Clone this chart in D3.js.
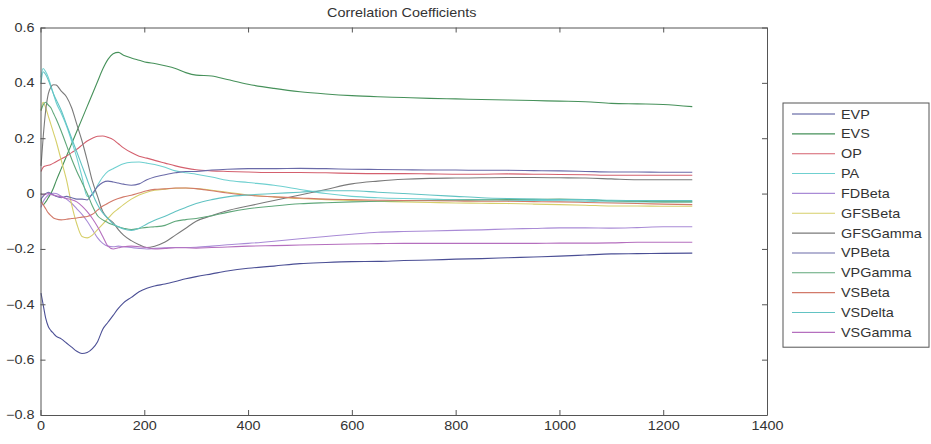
<!DOCTYPE html>
<html>
<head>
<meta charset="utf-8">
<script src="https://cdn.jsdelivr.net/npm/d3@7"></script>
<style>
  html, body { margin: 0; padding: 0; background: #fff; }
  svg { display: block; font-family: "Liberation Sans", Arial, sans-serif; }
</style>
</head>
<body>
<svg id="chart" width="931" height="444"></svg>
<script>
// Sample positions shared by every series
const steps = [1,5,10,15,20,25,30,40,50,60,70,80,90,100,110,120,130,140,150,160,175,190,205,220,240,260,280,300,330,360,400,450,500,550,600,650,700,750,800,850,900,950,1000,1050,1100,1150,1200,1256];

const seriesNames = ["EVP","EVS","OP","PA","FDBeta","GFSBeta","GFSGamma","VPBeta","VPGamma","VSBeta","VSDelta","VSGamma"];
const seriesColors = ["#4b4f95","#46915a","#d4606e","#6fd0d0","#a98bd6","#d6cf6a","#7a7a7a","#6a6aa8","#5fa77a","#d27a6a","#62c3c3","#b56fbe"];

const EVP = [-0.36,-0.40,-0.45,-0.48,-0.495,-0.505,-0.515,-0.525,-0.54,-0.555,-0.57,-0.578,-0.574,-0.56,-0.535,-0.49,-0.465,-0.44,-0.415,-0.395,-0.375,-0.355,-0.342,-0.334,-0.327,-0.318,-0.308,-0.300,-0.290,-0.280,-0.270,-0.262,-0.253,-0.249,-0.246,-0.245,-0.242,-0.240,-0.237,-0.235,-0.232,-0.229,-0.226,-0.222,-0.218,-0.217,-0.216,-0.215];
const EVS = [-0.02,-0.04,-0.03,-0.015,0.0,0.02,0.045,0.09,0.135,0.18,0.225,0.27,0.315,0.36,0.405,0.45,0.485,0.505,0.51,0.5,0.49,0.482,0.474,0.47,0.462,0.452,0.437,0.428,0.425,0.412,0.395,0.38,0.368,0.36,0.354,0.35,0.347,0.344,0.342,0.34,0.338,0.336,0.334,0.332,0.326,0.324,0.322,0.314];
const OP = [0.08,0.095,0.1,0.102,0.105,0.11,0.115,0.125,0.135,0.148,0.16,0.175,0.19,0.2,0.207,0.208,0.203,0.195,0.18,0.165,0.148,0.135,0.128,0.12,0.11,0.1,0.092,0.086,0.082,0.08,0.078,0.076,0.076,0.075,0.073,0.072,0.072,0.071,0.07,0.07,0.071,0.07,0.069,0.068,0.066,0.066,0.066,0.066];
const PA = [0.42,0.452,0.44,0.42,0.39,0.36,0.33,0.29,0.245,0.19,0.13,0.06,-0.01,-0.005,0.03,0.06,0.08,0.09,0.1,0.108,0.113,0.114,0.11,0.105,0.095,0.082,0.075,0.07,0.06,0.048,0.04,0.03,0.015,0.0,-0.01,-0.015,-0.018,-0.02,-0.022,-0.022,-0.024,-0.025,-0.026,-0.028,-0.03,-0.03,-0.03,-0.03];
const FDBeta = [-0.05,-0.03,-0.015,-0.005,0.0,0.001,0.0,-0.01,-0.02,-0.035,-0.055,-0.075,-0.1,-0.13,-0.16,-0.18,-0.19,-0.192,-0.19,-0.192,-0.195,-0.198,-0.2,-0.198,-0.196,-0.195,-0.195,-0.194,-0.19,-0.185,-0.18,-0.172,-0.163,-0.155,-0.147,-0.14,-0.137,-0.135,-0.133,-0.131,-0.128,-0.126,-0.124,-0.124,-0.125,-0.123,-0.12,-0.12];
const GFSBeta = [0.3,0.33,0.31,0.28,0.25,0.22,0.19,0.12,0.05,-0.04,-0.11,-0.155,-0.16,-0.15,-0.13,-0.11,-0.09,-0.07,-0.055,-0.04,-0.02,-0.005,0.005,0.012,0.016,0.019,0.02,0.018,0.012,0.005,-0.005,-0.012,-0.018,-0.022,-0.025,-0.028,-0.03,-0.032,-0.034,-0.035,-0.036,-0.038,-0.04,-0.042,-0.045,-0.045,-0.046,-0.046];
const GFSGamma = [0.1,0.2,0.3,0.36,0.385,0.393,0.392,0.37,0.35,0.31,0.25,0.19,0.12,0.045,-0.01,-0.065,-0.09,-0.105,-0.13,-0.15,-0.17,-0.185,-0.195,-0.19,-0.175,-0.15,-0.125,-0.1,-0.08,-0.062,-0.045,-0.025,-0.005,0.015,0.035,0.045,0.052,0.055,0.056,0.057,0.058,0.058,0.057,0.056,0.053,0.05,0.05,0.05];
const VPBeta = [-0.02,-0.01,0.0,0.005,0.0,-0.005,-0.01,-0.015,-0.01,-0.015,-0.02,-0.02,-0.023,0.0,0.025,0.04,0.045,0.042,0.038,0.034,0.03,0.035,0.05,0.06,0.068,0.075,0.08,0.08,0.085,0.088,0.09,0.09,0.091,0.09,0.088,0.087,0.086,0.085,0.085,0.084,0.084,0.083,0.082,0.08,0.078,0.078,0.077,0.077];
const VPGamma = [0.3,0.32,0.33,0.32,0.31,0.29,0.27,0.225,0.175,0.125,0.08,0.04,0.0,-0.045,-0.08,-0.095,-0.105,-0.113,-0.12,-0.125,-0.13,-0.126,-0.122,-0.12,-0.115,-0.1,-0.094,-0.09,-0.08,-0.068,-0.055,-0.045,-0.037,-0.033,-0.03,-0.028,-0.026,-0.025,-0.024,-0.023,-0.022,-0.021,-0.02,-0.022,-0.026,-0.028,-0.03,-0.03];
const VSBeta = [-0.03,-0.04,-0.055,-0.07,-0.08,-0.088,-0.092,-0.095,-0.093,-0.09,-0.088,-0.085,-0.083,-0.075,-0.06,-0.045,-0.035,-0.025,-0.018,-0.012,-0.006,0.002,0.01,0.015,0.017,0.02,0.02,0.018,0.01,0.002,-0.006,-0.012,-0.016,-0.02,-0.022,-0.024,-0.025,-0.026,-0.027,-0.028,-0.028,-0.029,-0.03,-0.032,-0.034,-0.036,-0.038,-0.04];
const VSDelta = [0.4,0.44,0.43,0.41,0.385,0.36,0.34,0.3,0.25,0.2,0.15,0.1,0.05,0.0,-0.04,-0.07,-0.09,-0.11,-0.12,-0.128,-0.133,-0.125,-0.11,-0.096,-0.082,-0.065,-0.05,-0.036,-0.022,-0.012,-0.005,0.0,0.005,0.01,0.01,0.005,0.0,-0.005,-0.01,-0.015,-0.018,-0.02,-0.022,-0.022,-0.024,-0.025,-0.025,-0.025];
const VSGamma = [0.0,-0.005,-0.002,0.0,-0.003,-0.005,-0.008,-0.012,-0.018,-0.022,-0.03,-0.045,-0.065,-0.09,-0.12,-0.155,-0.19,-0.2,-0.196,-0.192,-0.19,-0.192,-0.195,-0.2,-0.198,-0.196,-0.196,-0.197,-0.195,-0.193,-0.19,-0.188,-0.186,-0.184,-0.182,-0.181,-0.18,-0.18,-0.18,-0.18,-0.18,-0.18,-0.179,-0.179,-0.178,-0.176,-0.176,-0.176];

const seriesValues = [EVP, EVS, OP, PA, FDBeta, GFSBeta, GFSGamma, VPBeta, VPGamma, VSBeta, VSDelta, VSGamma];

const xTicks = [0,200,400,600,800,1000,1200,1400];
const yTicks = [-0.8,-0.6,-0.4,-0.2,0,0.2,0.4,0.6];
const titleText = "Correlation Coefficients";

// Layout
const plot = { left: 40.5, right: 767, top: 27.5, bottom: 415 };
const fontSize = 12;
const textStretch = 1.2;
const axisColor = "#555";
const textColor = "#333";

const svg = d3.select("#chart");

const x = d3.scaleLinear().domain([0, 1400]).range([plot.left, plot.right]);
const y = d3.scaleLinear().domain([-0.8, 0.6]).range([plot.bottom, plot.top]);

// Series lines
const line = d3.line()
  .x((d, i) => x(steps[i]))
  .y(d => y(d))
  .curve(d3.curveMonotoneX);

svg.append("g")
  .selectAll("path")
  .data(seriesValues)
  .join("path")
  .attr("d", d => line(d))
  .attr("fill", "none")
  .attr("stroke", (d, i) => seriesColors[i])
  .attr("stroke-width", 1.1);

// Axes with inward ticks on all four sides
function styleAxis(g) {
  g.select(".domain").attr("stroke", axisColor);
  g.selectAll(".tick line").attr("stroke", axisColor);
  g.selectAll(".tick text")
    .attr("fill", textColor)
    .attr("font-size", fontSize)
    .attr("font-family", "Liberation Sans, Arial, sans-serif")
    .attr("transform", `scale(${textStretch},1)`);
}

svg.append("g")
  .attr("transform", `translate(0,${plot.bottom})`)
  .call(d3.axisBottom(x).tickValues(xTicks).tickFormat(d3.format("d")).tickSizeInner(-5).tickSizeOuter(0).tickPadding(6))
  .call(styleAxis);

svg.append("g")
  .attr("transform", `translate(0,${plot.top})`)
  .call(d3.axisTop(x).tickValues(xTicks).tickFormat("").tickSizeInner(-5).tickSizeOuter(0))
  .call(styleAxis);

svg.append("g")
  .attr("transform", `translate(${plot.left},0)`)
  .call(d3.axisLeft(y).tickValues(yTicks).tickFormat(d => d === 0 ? "0" : d3.format(".1f")(d)).tickSizeInner(-5).tickSizeOuter(0).tickPadding(5))
  .call(styleAxis);

svg.append("g")
  .attr("transform", `translate(${plot.right},0)`)
  .call(d3.axisRight(y).tickValues(yTicks).tickFormat("").tickSizeInner(-5).tickSizeOuter(0))
  .call(styleAxis);

// Title
svg.append("text")
  .attr("transform", `translate(${(plot.left + plot.right) / 2 - 2},17) scale(${textStretch},1)`)
  .attr("text-anchor", "middle")
  .attr("font-size", fontSize)
  .attr("fill", textColor)
  .text(titleText);

// Legend
const legend = { left: 783, top: 103, width: 146, rowStart: 114, rowStep: 19.85 };
const lg = svg.append("g");
lg.append("rect")
  .attr("x", legend.left)
  .attr("y", legend.top)
  .attr("width", legend.width)
  .attr("height", legend.rowStep * seriesNames.length + 6)
  .attr("fill", "#fff")
  .attr("stroke", axisColor)
  .attr("stroke-width", 1);

const rows = lg.selectAll("g.row")
  .data(seriesNames)
  .join("g")
  .attr("class", "row")
  .attr("transform", (d, i) => `translate(${legend.left},${legend.rowStart + i * legend.rowStep})`);

rows.append("line")
  .attr("x1", 9).attr("x2", 52)
  .attr("y1", 0).attr("y2", 0)
  .attr("stroke", (d, i) => seriesColors[i])
  .attr("stroke-width", 1.1);

rows.append("text")
  .attr("transform", `translate(58,4.5) scale(${textStretch},1)`)
  .attr("font-size", fontSize)
  .attr("fill", textColor)
  .text(d => d);
</script>
</body>
</html>
